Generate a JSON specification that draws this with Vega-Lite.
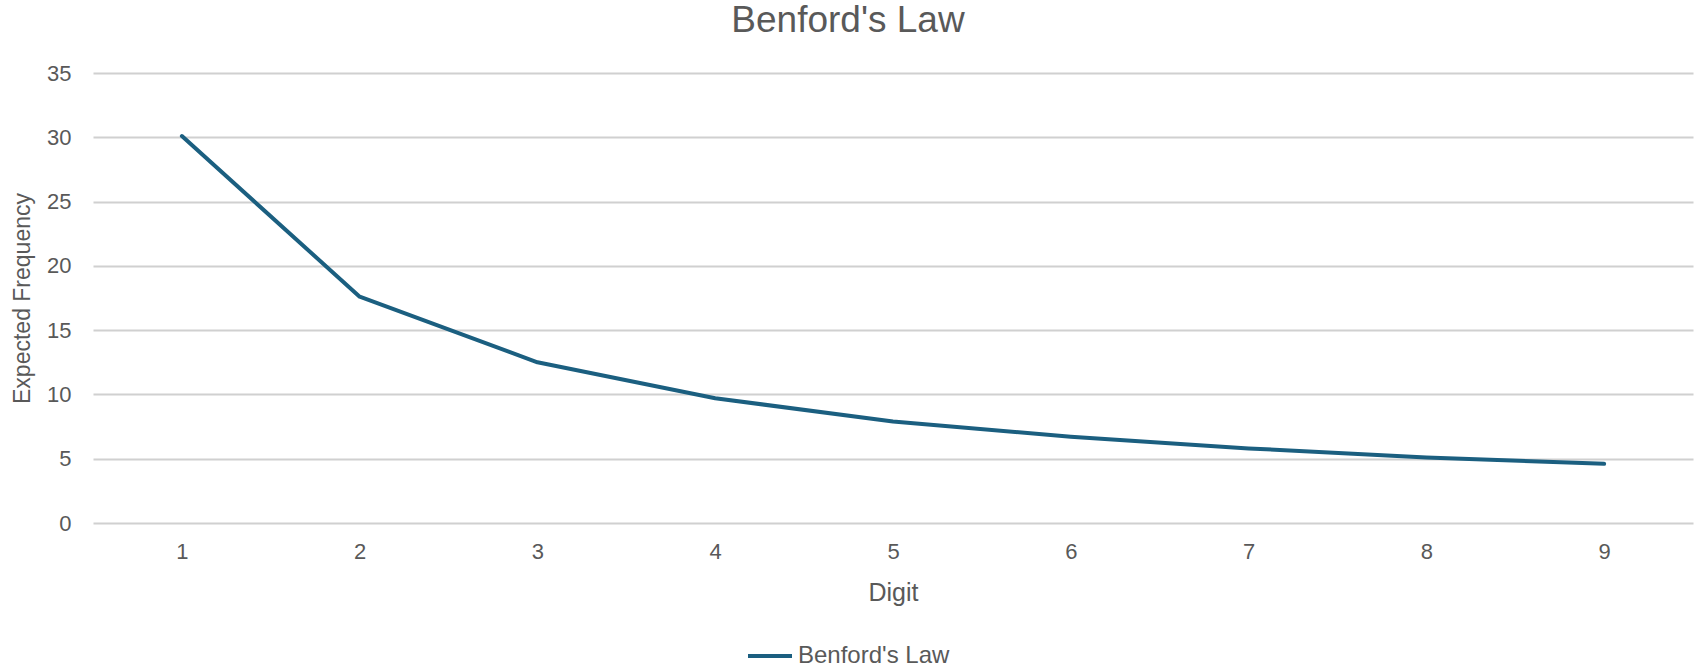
{
  "$schema": "https://vega.github.io/schema/vega-lite/v6.json",
  "width": 1600,
  "height": 450,
  "autosize": {"type": "none"},
  "padding": {"left": 93, "top": 73, "right": 4, "bottom": 145},
  "background": "white",
  "title": {
    "text": "Benford's Law",
    "font": "Liberation Sans",
    "fontSize": 37,
    "fontWeight": "normal",
    "color": "#595959",
    "anchor": "middle",
    "dx": -45,
    "offset": 22
  },
  "config": {
    "view": {"stroke": null},
    "axis": {"domain": false, "ticks": false}
  },
  "data": {
    "values": [
      {"Digit": 1, "Frequency": 30.1, "Series": "Benford's Law"},
      {"Digit": 2, "Frequency": 17.6, "Series": "Benford's Law"},
      {"Digit": 3, "Frequency": 12.5, "Series": "Benford's Law"},
      {"Digit": 4, "Frequency": 9.7, "Series": "Benford's Law"},
      {"Digit": 5, "Frequency": 7.9, "Series": "Benford's Law"},
      {"Digit": 6, "Frequency": 6.7, "Series": "Benford's Law"},
      {"Digit": 7, "Frequency": 5.8, "Series": "Benford's Law"},
      {"Digit": 8, "Frequency": 5.1, "Series": "Benford's Law"},
      {"Digit": 9, "Frequency": 4.6, "Series": "Benford's Law"}
    ]
  },
  "mark": {"type": "line", "strokeWidth": 4, "strokeCap": "round", "strokeJoin": "round"},
  "encoding": {
    "x": {
      "field": "Digit",
      "type": "ordinal",
      "scale": {"type": "point", "padding": 0.5},
      "axis": {
        "title": "Digit",
        "labelAngle": 0,
        "labelFont": "Liberation Sans",
        "labelFontSize": 22,
        "labelColor": "#595959",
        "labelPadding": 18,
        "grid": false,
        "titleFont": "Liberation Sans",
        "titleFontSize": 25,
        "titleFontWeight": "normal",
        "titleColor": "#595959",
        "titleY": 69,
        "titleBaseline": "middle"
      }
    },
    "y": {
      "field": "Frequency",
      "type": "quantitative",
      "scale": {"domain": [0, 35]},
      "axis": {
        "title": "Expected Frequency",
        "values": [0, 5, 10, 15, 20, 25, 30, 35],
        "labelFont": "Liberation Sans",
        "labelFontSize": 22,
        "labelColor": "#595959",
        "labelPadding": 22,
        "grid": true,
        "gridColor": "#d0d0d0",
        "gridWidth": 2,
        "titleFont": "Liberation Sans",
        "titleFontSize": 23,
        "titleFontWeight": "normal",
        "titleColor": "#595959",
        "titleX": -71,
        "titleBaseline": "middle"
      }
    },
    "color": {
      "field": "Series",
      "type": "nominal",
      "scale": {"range": ["#1b5f80"]},
      "legend": {
        "title": null,
        "orient": "none",
        "legendX": 653,
        "legendY": 559,
        "symbolType": "stroke",
        "symbolSize": 1936,
        "symbolStrokeWidth": 4,
        "labelFont": "Liberation Sans",
        "labelFontSize": 24,
        "labelColor": "#595959",
        "labelOffset": 4
      }
    }
  }
}
